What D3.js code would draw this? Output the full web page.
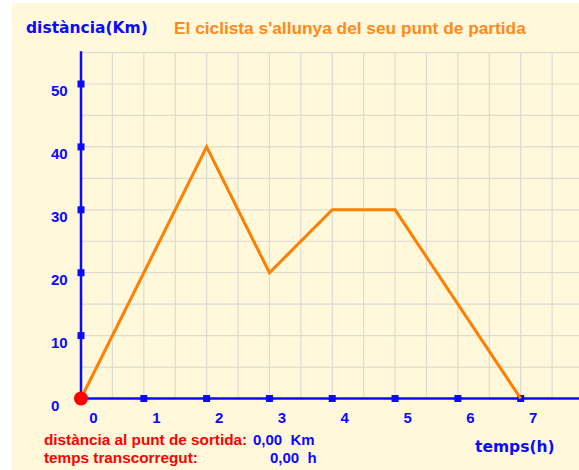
<!DOCTYPE html>
<html>
<head>
<meta charset="utf-8">
<script src="https://cdn.jsdelivr.net/npm/d3@7"></script>
<style>
  body { margin: 0; background: #fff; }
  svg { display: block; }
</style>
</head>
<body>
<div id="chart"></div>
<script>
// cyclist position over time
var timeH = [0, 2, 3, 4, 5, 7];
var distKm = [0, 40, 20, 30, 30, 0];

var xTicks = [0, 1, 2, 3, 4, 5, 6, 7];
var yTicks = [0, 10, 20, 30, 40, 50];

var title = "El ciclista s'allunya del seu punt de partida";
var yTitle = "distància(Km)";
var xTitle = "temps(h)";
var infoLabels = ["distància al punt de sortida:", "temps transcorregut:"];
var infoValues = ["0,00  Km", "0,00  h"];

var W = 579, H = 470;
var blue = "#0a0aff", orange = "#ff7f00", red = "#ff0000";

var svg = d3.select("#chart").append("svg")
    .attr("width", W)
    .attr("height", H);

// cream panel
svg.append("rect")
    .attr("x", 12).attr("y", 3)
    .attr("width", W - 12).attr("height", H - 3)
    .attr("fill", "#fff8da");

var x = d3.scaleLinear().domain([0, 7]).range([81, 520.7]);
var y = d3.scaleLinear().domain([0, 50]).range([398.5, 84]);

// grid, every half hour and every 5 km
var gx = d3.range(0.5, 8.01, 0.5);
var gy = d3.range(5, 55.01, 5);
var grid = svg.append("g").attr("stroke", "#dedbd0").attr("stroke-width", 1.2);
grid.selectAll(".gv").data(gx).enter().append("line")
    .attr("x1", function(d) { return x(d); })
    .attr("x2", function(d) { return x(d); })
    .attr("y1", y(55)).attr("y2", y(0));
grid.selectAll(".gh").data(gy).enter().append("line")
    .attr("x1", x(0)).attr("x2", W)
    .attr("y1", function(d) { return y(d); })
    .attr("y2", function(d) { return y(d); });

// axes
svg.append("line")
    .attr("x1", x(0)).attr("x2", W)
    .attr("y1", y(0)).attr("y2", y(0))
    .attr("stroke", blue).attr("stroke-width", 2.5);
svg.append("line")
    .attr("x1", x(0)).attr("x2", x(0))
    .attr("y1", y(55.2)).attr("y2", y(0))
    .attr("stroke", blue).attr("stroke-width", 2.5);

// tick squares
svg.selectAll(".tx").data(xTicks.slice(1)).enter().append("rect")
    .attr("x", function(d) { return x(d) - 3.5; })
    .attr("y", y(0) - 3.5)
    .attr("width", 7).attr("height", 7)
    .attr("fill", blue);
svg.selectAll(".ty").data(yTicks.slice(1)).enter().append("rect")
    .attr("x", x(0) - 3.5)
    .attr("y", function(d) { return y(d) - 3.5; })
    .attr("width", 7).attr("height", 7)
    .attr("fill", blue);

// tick labels
svg.selectAll(".lx").data(xTicks).enter().append("text")
    .attr("x", function(d) { return x(d) + 12.5; })
    .attr("y", y(0) + 24)
    .attr("text-anchor", "middle")
    .style("font-family", "Liberation Sans, Arial, sans-serif")
    .style("font-weight", "bold")
    .style("font-size", "15px")
    .attr("fill", blue)
    .text(function(d) { return d; });
svg.selectAll(".ly").data(yTicks).enter().append("text")
    .attr("x", 51)
    .attr("y", function(d) { return y(d) + 12; })
    .style("font-family", "Liberation Sans, Arial, sans-serif")
    .style("font-weight", "bold")
    .style("font-size", "15px")
    .attr("fill", blue)
    .text(function(d) { return d; });

// the journey
var pts = timeH.map(function(t, i) { return [t, distKm[i]]; });
var line = d3.line()
    .x(function(d) { return x(d[0]); })
    .y(function(d) { return y(d[1]); });
svg.append("path")
    .attr("d", line(pts))
    .attr("fill", "none")
    .attr("stroke", orange)
    .attr("stroke-width", 3)
    .attr("stroke-linejoin", "miter");

// start point
svg.append("circle")
    .attr("cx", x(0)).attr("cy", y(0))
    .attr("r", 7)
    .attr("fill", red);

// titles
svg.append("text")
    .attr("x", 26).attr("y", 33)
    .style("font-family", "DejaVu Sans, Verdana, sans-serif")
    .style("font-weight", "bold")
    .style("font-size", "15.5px")
    .attr("fill", blue)
    .text(yTitle);
svg.append("text")
    .attr("x", 174).attr("y", 34)
    .style("font-family", "Liberation Sans, Arial, sans-serif")
    .style("font-weight", "bold")
    .style("font-size", "17.3px")
    .attr("fill", "#ff8a1c")
    .text(title);
svg.append("text")
    .attr("x", 475).attr("y", 452)
    .style("font-family", "DejaVu Sans, Verdana, sans-serif")
    .style("font-weight", "bold")
    .style("font-size", "15.5px")
    .attr("fill", blue)
    .text(xTitle);

// readout
var infoY = [445, 463];
var valueX = [253, 270];
infoLabels.forEach(function(s, i) {
  svg.append("text")
      .attr("x", 44).attr("y", infoY[i])
      .style("font-family", "Liberation Sans, Arial, sans-serif")
      .style("font-weight", "bold")
      .style("font-size", "15.3px")
      .attr("fill", red)
      .text(s);
  svg.append("text")
      .attr("x", valueX[i]).attr("y", infoY[i])
      .style("font-family", "Liberation Sans, Arial, sans-serif")
      .style("font-weight", "bold")
      .style("font-size", "15px")
      .style("white-space", "pre")
      .attr("fill", blue)
      .text(infoValues[i]);
});
</script>
</body>
</html>
